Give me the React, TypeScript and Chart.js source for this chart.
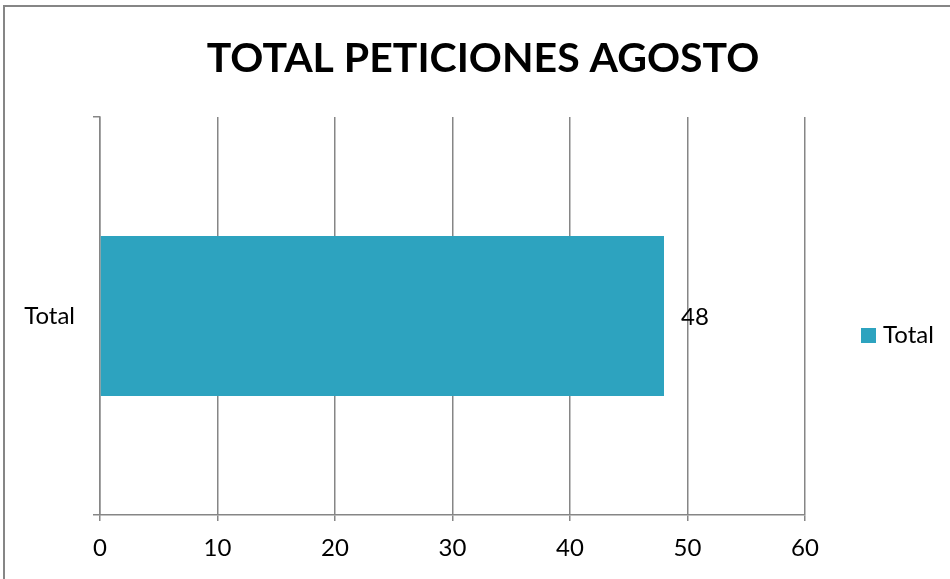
import React, { useEffect, useRef } from "react";
import { Chart, registerables } from "chart.js";

Chart.register(...registerables);

const chartTitle = "TOTAL PETICIONES AGOSTO";
const categories = ["Total"];
const seriesName = "Total";
const seriesValues = [48];
const xTicks = [0, 10, 20, 30, 40, 50, 60];

const GRID = "#868686";
const BAR = "#2DA3BF";
const FONT = "Lato, 'Open Sans', sans-serif";

const decor = {
  id: "decor",
  beforeDraw(chart: any) {
    const ctx = chart.ctx;
    ctx.save();
    ctx.fillStyle = "#ffffff";
    ctx.fillRect(0, 0, chart.width, chart.height);
    ctx.strokeStyle = GRID;
    ctx.lineWidth = 2;
    ctx.strokeRect(4, 6, chart.width + 20, chart.height + 20);
    ctx.restore();
  },
  afterDraw(chart: any) {
    const ctx = chart.ctx;
    ctx.save();
    // title
    ctx.fillStyle = "#000";
    ctx.font = `bold 41px ${FONT}`;
    ctx.textAlign = "center";
    ctx.textBaseline = "alphabetic";
    ctx.fillText(chartTitle, 483, 72);
    // data labels
    const meta = chart.getDatasetMeta(0);
    ctx.font = `24px ${FONT}`;
    ctx.textAlign = "left";
    ctx.textBaseline = "middle";
    meta.data.forEach((el: any, i: number) => {
      ctx.fillText(String(chart.data.datasets[0].data[i]), el.x + 17, el.y + 1);
    });
    // legend
    const ds = chart.data.datasets[0];
    const lx = 861;
    const ly = 328;
    ctx.fillStyle = ds.backgroundColor;
    ctx.fillRect(lx, ly, 15, 15);
    ctx.fillStyle = "#000";
    ctx.textBaseline = "middle";
    ctx.fillText(ds.label, lx + 22, ly + 7);
    ctx.restore();
  },
};

export default function App() {
  const ref = useRef<HTMLCanvasElement>(null);
  useEffect(() => {
    document.body.style.margin = "0";
    const chart = new Chart(ref.current!, {
      type: "bar",
      data: {
        labels: categories,
        datasets: [
          {
            label: seriesName,
            data: seriesValues,
            backgroundColor: BAR,
            borderWidth: 0,
            categoryPercentage: 1,
            barPercentage: 0.402,
          },
        ],
      },
      options: {
        indexAxis: "y",
        responsive: false,
        animation: false,
        events: [],
        layout: { padding: { left: 0, top: 117, right: 145, bottom: 0 } },
        plugins: {
          legend: { display: false },
          title: { display: false },
          tooltip: { enabled: false },
        },
        scales: {
          x: {
            type: "linear",
            min: xTicks[0],
            max: xTicks[xTicks.length - 1],
            afterBuildTicks: (scale: any) => {
              scale.ticks = xTicks.map((v) => ({ value: v }));
            },
            afterFit: (scale: any) => {
              scale.height = 64;
            },
            grid: {
              color: GRID,
              lineWidth: 1.5,
              tickLength: 6,
              drawOnChartArea: true,
            },
            border: { color: GRID, width: 1.5 },
            ticks: {
              color: "#000",
              font: { family: FONT, size: 24 },
              padding: 13,
              maxRotation: 0,
            },
          },
          y: {
            type: "category",
            offset: true,
            afterFit: (scale: any) => {
              scale.width = 100;
            },
            grid: {
              offset: true,
              color: GRID,
              lineWidth: 1.5,
              tickLength: 7,
              drawOnChartArea: false,
            },
            border: { color: GRID, width: 1.5 },
            ticks: {
              color: "#000",
              font: { family: FONT, size: 24 },
              padding: 18,
            },
          },
        },
      },
      plugins: [decor],
    } as any);
    return () => chart.destroy();
  }, []);
  return (
    <div style={{ position: "absolute", left: 0, top: 0, width: 950, height: 579 }}>
      <canvas ref={ref} width={950} height={579} />
    </div>
  );
}
